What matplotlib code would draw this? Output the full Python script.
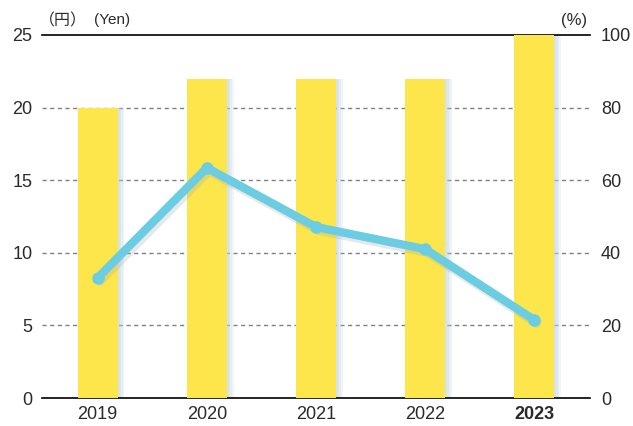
import matplotlib.pyplot as plt
import numpy as np

plt.rcParams['font.family'] = ['Liberation Sans', 'Noto Sans CJK JP', 'DejaVu Sans']

years = ['2019', '2020', '2021', '2022', '2023']
dividend = [20, 22, 22, 22, 25]          # yen, left axis
payout_ratio = [33.1, 63.4, 47.1, 41.0, 21.5]  # %, right axis

bar_color = '#fde64b'
line_color = '#6ccde2'
txt = '#2a2a2a'

fig = plt.figure(figsize=(6.33, 4.26), dpi=100)
ax = fig.add_axes([0.0664, 0.0657, 0.8656, 0.8523])
x = np.arange(len(years))

# soft shadow to the right of the bars
for off in [0.06, 0.045, 0.03, 0.015]:
    ax.bar(x + off, dividend, width=0.37, color='#c3d2e0', alpha=0.22, zorder=2, linewidth=0)
ax.bar(x, dividend, width=0.37, color=bar_color, zorder=3, linewidth=0)

ax.set_xlim(-0.51, 4.51)
ax.set_ylim(0, 25)
ax.set_yticks([0, 5, 10, 15, 20, 25])
ax.set_xticks(x)
ax.set_xticklabels(years)
for lbl in ax.get_xticklabels():
    if lbl.get_text() == '2023':
        lbl.set_fontweight('bold')
ax.tick_params(axis='both', length=0, labelsize=13, colors=txt, pad=6)
ax.tick_params(axis='y', pad=7)
for yv in [5, 10, 15, 20]:
    ax.axhline(yv, color='#808080', linestyle=(0, (3, 2.5)), linewidth=1, zorder=1)
for s in ['left', 'right']:
    ax.spines[s].set_visible(False)
ax.spines['top'].set_linewidth(1.2)
ax.spines['bottom'].set_linewidth(1.2)

ax2 = ax.twinx()
ax2.set_ylim(0, 100)
ax2.set_yticks([0, 20, 40, 60, 80, 100])
ax2.tick_params(axis='y', length=0, labelsize=13, colors=txt, pad=8)
for s in ['left', 'right', 'top', 'bottom']:
    ax2.spines[s].set_visible(False)

# line shadow
ax2.plot(x + 0.02, np.array(payout_ratio) - 0.8, color='#9aa8b4', alpha=0.25,
         linewidth=7, solid_capstyle='round', zorder=4)
ax2.plot(x, payout_ratio, color=line_color, linewidth=6, marker='o', markersize=8,
         solid_joinstyle='round', solid_capstyle='round', zorder=5)

fig.text(0.061, 0.952, '（円）', fontsize=11.5, color=txt, ha='left', va='center')
fig.text(0.149, 0.952, '(Yen)', fontsize=11, color=txt, ha='left', va='center')
fig.text(0.928, 0.952, '(%)', fontsize=12, color=txt, ha='right', va='center')

fig.savefig('out.png', dpi=100)
